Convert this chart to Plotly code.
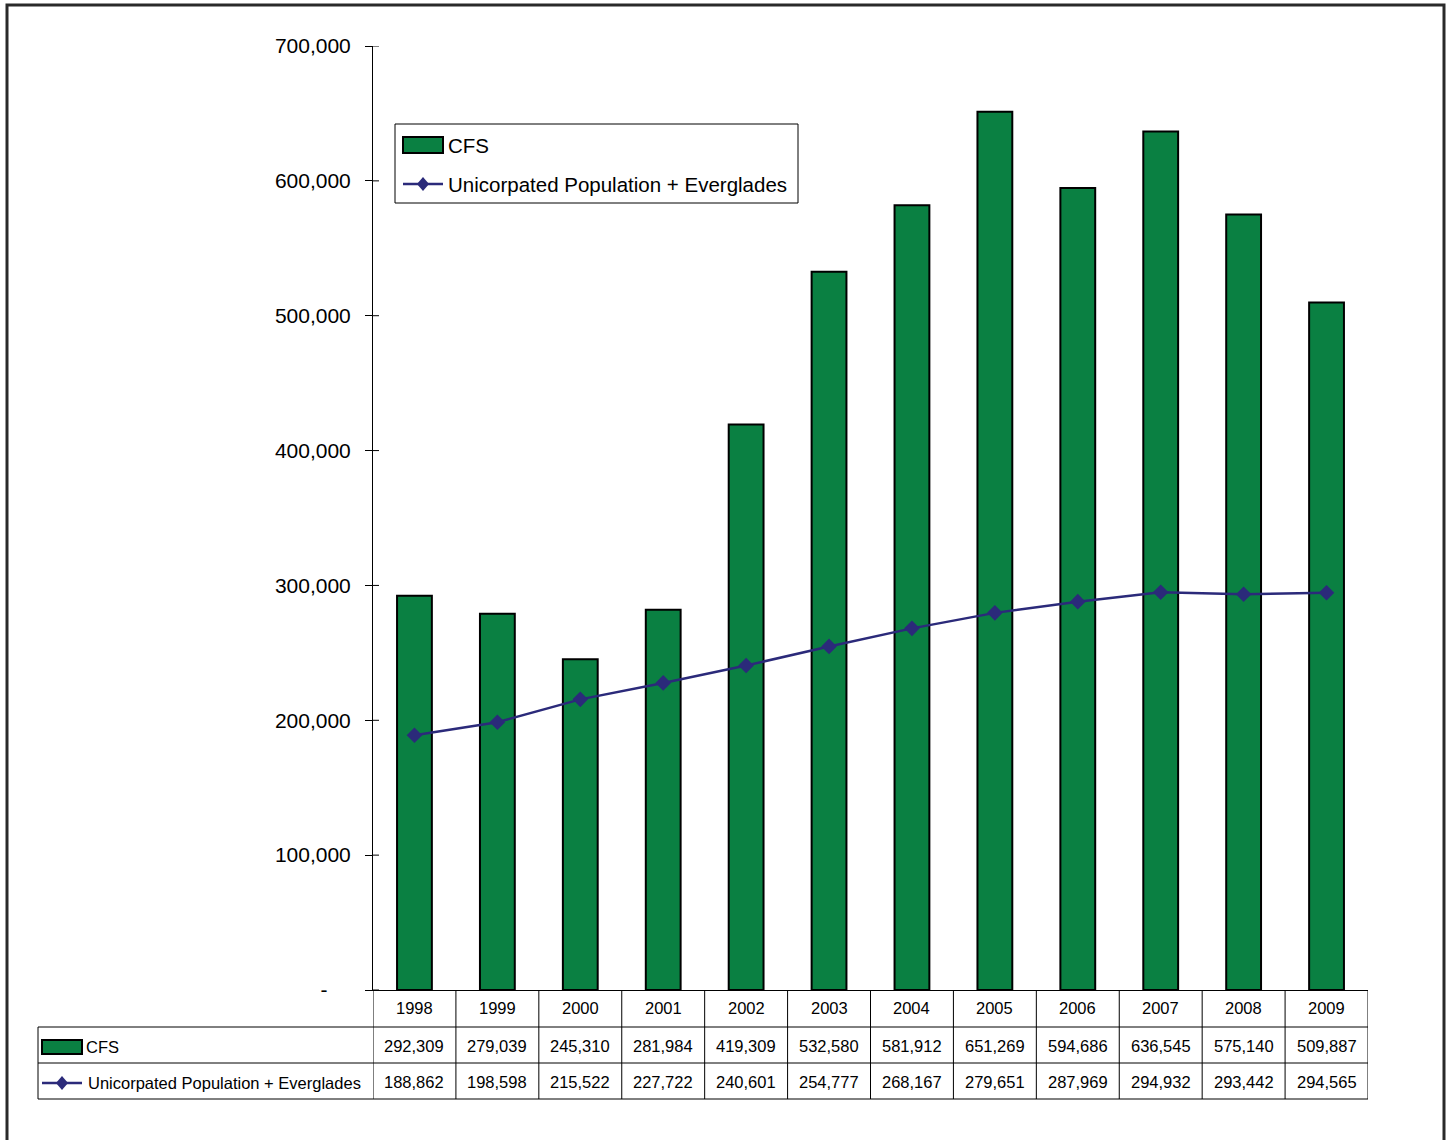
import plotly.graph_objects as go

# ---- data ----
years = ["1998", "1999", "2000", "2001", "2002", "2003",
         "2004", "2005", "2006", "2007", "2008", "2009"]
cfs = [292309, 279039, 245310, 281984, 419309, 532580,
       581912, 651269, 594686, 636545, 575140, 509887]
population = [188862, 198598, 215522, 227722, 240601, 254777,
              268167, 279651, 287969, 294932, 293442, 294565]
series_names = ["CFS", "Unicorpated Population + Everglades"]
y_tickvals = [0, 100000, 200000, 300000, 400000, 500000, 600000, 700000]
y_ticktext = ["-\u00a0\u00a0\u00a0\u00a0", "100,000", "200,000", "300,000",
              "400,000", "500,000", "600,000", "700,000"]

# ---- styling ----
W, H = 1449, 1140
L, R, T, B = 373, 1368, 46, 990          # plot area in pixels
BAR_GREEN = "#0a8042"
NAVY = "#2b2a7a"
FONT = "Liberation Sans, Arial, sans-serif"


def px(x):
    """Horizontal pixel -> paper fraction."""
    return (x - L) / (R - L)


def py(y):
    """Vertical pixel -> paper fraction."""
    return (B - y) / (B - T)


xs = list(range(len(years)))

fig = go.Figure()
fig.add_trace(go.Bar(
    x=xs, y=cfs, name=series_names[0], width=0.42,
    marker=dict(color=BAR_GREEN, line=dict(color="black", width=2)),
))
fig.add_trace(go.Scatter(
    x=xs, y=population, name=series_names[1], mode="lines+markers",
    line=dict(color=NAVY, width=2.5),
    marker=dict(symbol="diamond", size=12, color=NAVY),
))

shapes = []
annotations = []

# outer frame
shapes.append(dict(type="rect", xref="paper", yref="paper",
                   x0=px(7), x1=px(1444), y0=py(1150), y1=py(5),
                   line=dict(color="#2a2a2a", width=3), layer="below"))

# right half of crossing y ticks
for v in y_tickvals:
    shapes.append(dict(type="line", xref="paper", yref="y",
                       x0=0, x1=px(379), y0=v, y1=v,
                       line=dict(color="black", width=1)))

# ---- data table grid ----
row_edges = [B, 1027, 1063, 1099]
grid = dict(color="black", width=1)
for yy in row_edges[1:]:
    shapes.append(dict(type="line", xref="paper", yref="paper",
                       x0=px(38), x1=1, y0=py(yy), y1=py(yy), line=grid))
for k in range(len(years) + 1):
    shapes.append(dict(type="line", xref="x", yref="paper",
                       x0=k - 0.5, x1=k - 0.5, y0=py(B), y1=py(1099), line=grid))
shapes.append(dict(type="line", xref="paper", yref="paper",
                   x0=px(38), x1=px(38), y0=py(1027), y1=py(1099), line=grid))

# table cells
row_centers = [1008, 1046, 1082]
for i, yr in enumerate(years):
    for yc, txt in zip(row_centers, [yr, f"{cfs[i]:,}", f"{population[i]:,}"]):
        annotations.append(dict(x=i, y=py(yc), xref="x", yref="paper",
                                text=txt, showarrow=False,
                                font=dict(family=FONT, size=16.5, color="black"),
                                xanchor="center", yanchor="middle"))


def bar_key(x0, y0, x1, y1):
    shapes.append(dict(type="rect", xref="paper", yref="paper",
                       x0=px(x0), x1=px(x1), y0=py(y1), y1=py(y0),
                       fillcolor=BAR_GREEN, line=dict(color="black", width=2)))


def line_key(x0, x1, yc, half=6):
    shapes.append(dict(type="line", xref="paper", yref="paper",
                       x0=px(x0), x1=px(x1), y0=py(yc), y1=py(yc),
                       line=dict(color=NAVY, width=2.5)))
    xc = (x0 + x1) / 2
    path = (f"M {px(xc - half)} {py(yc)} L {px(xc)} {py(yc - half - 1)} "
            f"L {px(xc + half)} {py(yc)} L {px(xc)} {py(yc + half + 1)} Z")
    shapes.append(dict(type="path", xref="paper", yref="paper", path=path,
                       fillcolor=NAVY, line=dict(color=NAVY, width=0)))


def label(x, yc, text, size):
    annotations.append(dict(x=px(x), y=py(yc), xref="paper", yref="paper",
                            text=text, showarrow=False, xanchor="left",
                            yanchor="middle",
                            font=dict(family=FONT, size=size, color="black")))


# table row keys
bar_key(42, 1040, 82, 1054)
label(84, 1047, series_names[0], 16.5)
line_key(42, 82, 1083)
label(86, 1083, series_names[1], 16.5)

# chart legend
shapes.append(dict(type="rect", xref="paper", yref="paper",
                   x0=px(395), x1=px(798), y0=py(203), y1=py(124),
                   fillcolor="white", line=dict(color="black", width=1)))
bar_key(403, 137, 443, 153)
label(446, 145, series_names[0], 20.5)
line_key(403, 443, 184)
label(446, 184, series_names[1], 20.5)

fig.update_layout(
    width=W, height=H,
    margin=dict(l=L, r=W - R, t=T, b=H - B),
    paper_bgcolor="white", plot_bgcolor="white",
    showlegend=False,
    shapes=shapes, annotations=annotations,
    font=dict(family=FONT, color="black"),
    xaxis=dict(range=[-0.5, len(years) - 0.5], showticklabels=False,
               showgrid=False, zeroline=False, showline=True,
               linecolor="black", linewidth=1, ticks=""),
    yaxis=dict(range=[0, 700000], tickvals=y_tickvals, ticktext=y_ticktext,
               showgrid=False, zeroline=False, showline=True,
               linecolor="black", linewidth=1, ticks="outside", ticklen=7,
               tickcolor="black", ticklabelstandoff=10,
               tickfont=dict(family=FONT, size=21, color="black")),
)

fig.write_html("out.html")
